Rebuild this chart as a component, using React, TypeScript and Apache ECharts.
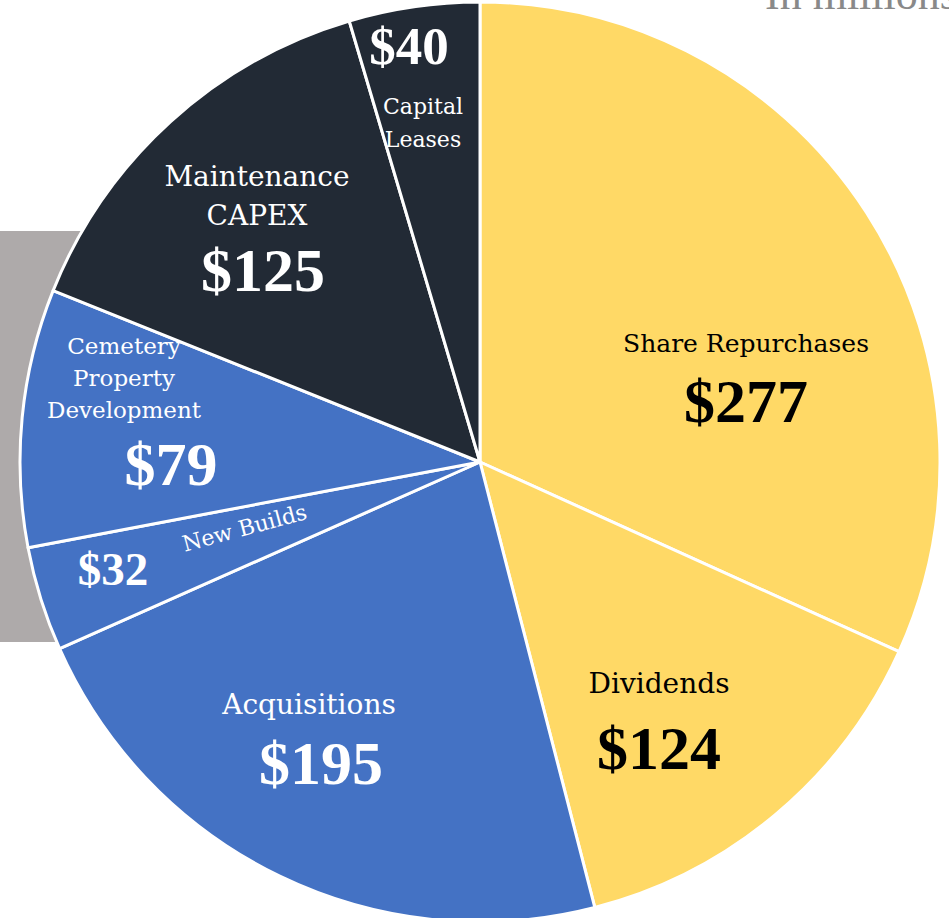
import React, { useEffect, useRef } from "react";
import * as echarts from "echarts";

// ---- data ----
const categories = [
  "Share Repurchases",
  "Dividends",
  "Acquisitions",
  "New Builds",
  "Cemetery Property Development",
  "Maintenance CAPEX",
  "Capital Leases",
];
const values = [277, 124, 195, 32, 79, 125, 40];
const unitNote = "In millions";

// ---- styles ----
const sliceColors = ["#FFD966", "#FFD966", "#4472C4", "#4472C4", "#4472C4", "#222A35", "#222A35"];
const textColors = ["#000000", "#000000", "#FFFFFF", "#FFFFFF", "#FFFFFF", "#FFFFFF", "#FFFFFF"];

// label placement (glyph centres), font sizes, wrapping
const labelPlacement = [
  { nx: 746, ny: 343, ns: 25, gap: 0, wrap: false, rot: 0, vx: 746, vy: 401, vs: 62 },
  { nx: 659, ny: 683, ns: 28, gap: 0, wrap: false, rot: 0, vx: 659, vy: 748, vs: 62 },
  { nx: 309, ny: 704, ns: 28, gap: 0, wrap: false, rot: 0, vx: 321, vy: 763, vs: 62 },
  { nx: 244.5, ny: 528, ns: 22, gap: 0, wrap: false, rot: 15, vx: 113, vy: 569, vs: 47 },
  { nx: 124, ny: 346, ns: 23, gap: 32, wrap: true, rot: 0, vx: 171, vy: 464, vs: 62 },
  { nx: 257, ny: 176, ns: 28, gap: 39.5, wrap: true, rot: 0, vx: 263, vy: 270, vs: 62 },
  { nx: 423, ny: 106, ns: 22, gap: 33.5, wrap: true, rot: 0, vx: 409, vy: 46, vs: 53 },
];

const NAME_FONT = "'DejaVu Serif', serif";
const VALUE_FONT = "'Liberation Serif', serif";

export default function App() {
  const ref = useRef<HTMLDivElement>(null);

  useEffect(() => {
    if (!ref.current) return;
    const chart = echarts.init(ref.current, undefined, { renderer: "svg" });

    const texts: any[] = [];
    categories.forEach((name, i) => {
      const p = labelPlacement[i];
      const lines = p.wrap ? name.split(" ") : [name];
      lines.forEach((line, k) => {
        texts.push({
          type: "text",
          x: p.nx,
          y: p.ny + k * p.gap,
          rotation: (p.rot * Math.PI) / 180,
          z: 100,
          silent: true,
          style: {
            text: line,
            fill: textColors[i],
            fontFamily: NAME_FONT,
            fontSize: p.ns,
            fontWeight: "normal",
            align: "center",
            verticalAlign: "middle",
          },
        });
      });
      texts.push({
        type: "text",
        x: p.vx,
        y: p.vy,
        z: 100,
        silent: true,
        style: {
          text: "$" + values[i],
          fill: textColors[i],
          fontFamily: VALUE_FONT,
          fontSize: p.vs,
          fontWeight: "bold",
          align: "center",
          verticalAlign: "middle",
        },
      });
    });

    chart.setOption({
      animation: false,
      backgroundColor: "#FFFFFF",
      graphic: {
        elements: [
          {
            type: "rect",
            z: -10,
            silent: true,
            shape: { x: 0, y: 231, width: 200, height: 411 },
            style: { fill: "#AEAAAA" },
          },
          {
            type: "text",
            x: 765,
            y: -6,
            z: 100,
            silent: true,
            style: {
              text: unitNote,
              fill: "#898989",
              fontFamily: VALUE_FONT,
              fontSize: 44,
              align: "left",
              verticalAlign: "middle",
            },
          },
          ...texts,
        ],
      },
      series: [
        {
          type: "pie",
          z: 2,
          center: [480, 462],
          radius: 460,
          startAngle: 90,
          clockwise: true,
          silent: true,
          label: { show: false },
          labelLine: { show: false },
          emphasis: { disabled: true },
          itemStyle: { borderColor: "#FFFFFF", borderWidth: 3 },
          data: categories.map((name, i) => ({
            name,
            value: values[i],
            itemStyle: { color: sliceColors[i] },
          })),
        },
      ],
    });

    return () => chart.dispose();
  }, []);

  return (
    <div
      ref={ref}
      style={{ position: "fixed", left: 0, top: 0, width: 949, height: 918 }}
    />
  );
}
